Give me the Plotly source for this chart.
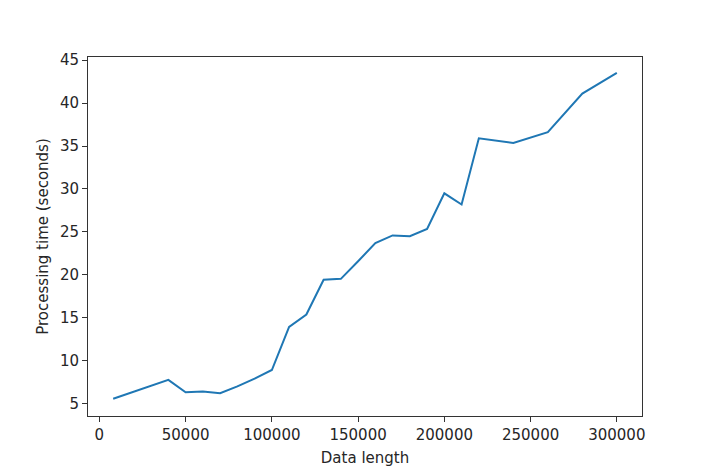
import plotly.graph_objects as go

# data length vs processing time (seconds)
data_length = [8000, 40000, 50000, 60000, 70000, 80000, 90000, 100000,
               110000, 120000, 130000, 140000, 150000, 160000, 170000, 180000,
               190000, 200000, 210000, 220000, 240000, 260000, 280000, 300000]
proc_time = [5.6, 7.8, 6.35, 6.45, 6.25, 7.05, 7.95, 8.95,
             13.95, 15.4, 19.45, 19.55, 21.6, 23.7, 24.6, 24.5,
             25.35, 29.5, 28.2, 35.9, 35.35, 36.6, 41.1, 43.5]

x_ticks = [0, 50000, 100000, 150000, 200000, 250000, 300000]
y_ticks = [5, 10, 15, 20, 25, 30, 35, 40, 45]

FONT = dict(family='DejaVu Sans', size=15, color='#262626')

fig = go.Figure()
fig.add_trace(go.Scatter(
    x=data_length, y=proc_time,
    mode='lines',
    line=dict(color='#1f77b4', width=2),
    showlegend=False
))

axis_common = dict(
    showline=True, linecolor='#333', linewidth=1, mirror=True,
    ticks='outside', ticklen=5, tickwidth=1, tickcolor='#333',
    showgrid=False, zeroline=False, automargin=False,
    tickfont=FONT,
)

# page body has an 8px margin, so the figure is a bit smaller than the window
fig.update_layout(
    width=706, height=468,
    margin=dict(l=80, r=72, t=49, b=60),
    paper_bgcolor='white', plot_bgcolor='white',
    xaxis=dict(
        range=[-6600, 314600],
        tickvals=x_ticks, ticktext=[str(v) for v in x_ticks],
        title=dict(text='Data length', standoff=9, font=FONT),
        **axis_common
    ),
    yaxis=dict(
        range=[3.6, 45.35],
        tickvals=y_ticks, ticktext=[str(v) for v in y_ticks],
        title=dict(text='Processing time (seconds)', standoff=7, font=FONT),
        **axis_common
    ),
)

fig.write_html("out.html")
